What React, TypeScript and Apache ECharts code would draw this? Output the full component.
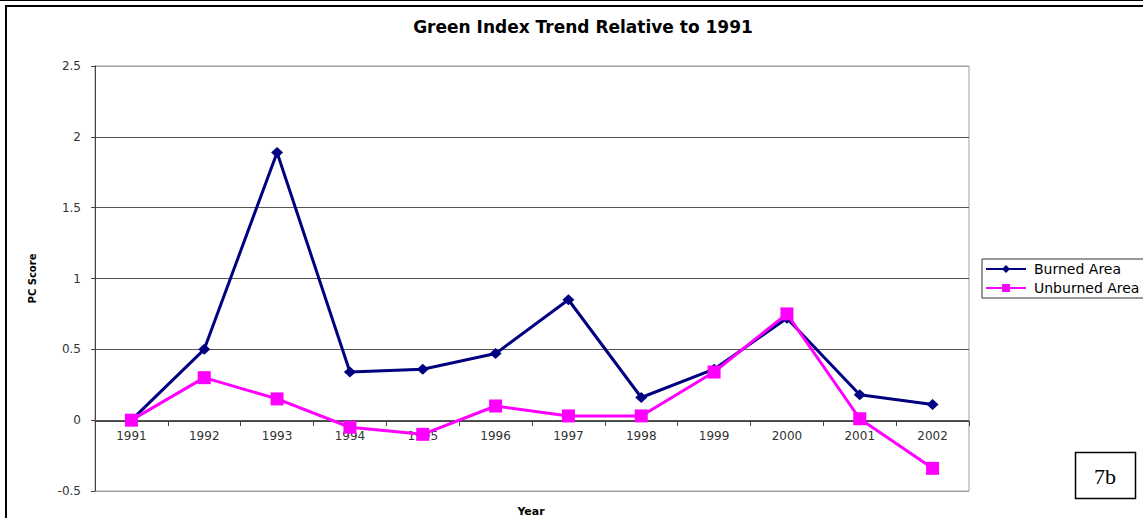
import React, { useEffect, useRef } from "react";
import * as echarts from "echarts";

const years = ["1991", "1992", "1993", "1994", "1995", "1996", "1997", "1998", "1999", "2000", "2001", "2002"];
const burnedArea = [0, 0.5, 1.89, 0.34, 0.36, 0.47, 0.85, 0.16, 0.36, 0.72, 0.18, 0.11];
const unburnedArea = [0, 0.3, 0.15, -0.05, -0.1, 0.1, 0.03, 0.03, 0.34, 0.75, 0.01, -0.34];
const seriesNames = ["Burned Area", "Unburned Area"];
const titleText = "Green Index Trend Relative to 1991";
const yAxisName = "PC Score";
const xAxisName = "Year";
const panelLabel = "7b";

const FONT = "'DejaVu Sans', Verdana, sans-serif";

export default function App() {
  const ref = useRef<HTMLDivElement>(null);
  useEffect(() => {
    if (!ref.current) return;
    const chart = echarts.init(ref.current, null, { renderer: "svg" });
    chart.setOption({
      animation: false,
      backgroundColor: "#ffffff",
      title: {
        text: titleText,
        left: 578,
        top: 13,
        textAlign: "center",
        textStyle: { fontFamily: FONT, fontSize: 17, fontWeight: "bold", color: "#000" },
      },
      grid: {
        left: 95,
        right: 174,
        top: 66,
        bottom: 27,
        outerBoundsMode: "none",
        containLabel: false,
        show: true,
        borderColor: "#a0a0a0",
        borderWidth: 1,
      },
      legend: {
        orient: "vertical",
        left: 982,
        top: 259,
        padding: [3, 6, 3, 3],
        itemGap: 5,
        itemWidth: 40,
        itemHeight: 10,
        borderColor: "#333",
        borderWidth: 1,
        textStyle: { fontFamily: FONT, fontSize: 14, lineHeight: 14, color: "#000", padding: [0, 0, 0, 3] },
        data: seriesNames,
      },
      xAxis: {
        type: "category",
        data: years,
        boundaryGap: true,
        offset: -70,
        axisLine: { onZero: false, lineStyle: { color: "#444", width: 1 } },
        axisTick: { show: true, length: 5, lineStyle: { color: "#444" } },
        axisLabel: { fontFamily: FONT, fontSize: 12, color: "#333", margin: 9 },
      },
      yAxis: {
        type: "value",
        min: -0.5,
        max: 2.5,
        interval: 0.5,
        name: yAxisName,
        nameLocation: "middle",
        nameGap: 58,
        nameRotate: 90,
        nameTextStyle: { fontFamily: FONT, fontSize: 10, fontWeight: "bold", color: "#000" },
        axisLine: { show: true, onZero: false, lineStyle: { color: "#444", width: 1 } },
        axisTick: { show: true, length: 4, lineStyle: { color: "#444" } },
        axisLabel: { fontFamily: FONT, fontSize: 12, color: "#333", margin: 14 },
        splitLine: {
          show: true,
          lineStyle: { color: ["#a0a0a0", "#555", "#555", "#555", "#555", "#555", "#a0a0a0"], width: 1 },
        },
      },
      series: [
        {
          name: seriesNames[0],
          type: "line",
          data: burnedArea,
          color: "#000080",
          lineStyle: { width: 3, color: "#000080" },
          symbol: "diamond",
          symbolSize: [12, 11],
          itemStyle: { color: "#000080" },
        },
        {
          name: seriesNames[1],
          type: "line",
          data: unburnedArea,
          color: "#ff00ff",
          lineStyle: { width: 3, color: "#ff00ff" },
          symbol: "rect",
          symbolSize: 13,
          itemStyle: { color: "#ff00ff" },
        },
      ],
      graphic: [
        { type: "line", shape: { x1: 0, y1: 0.5, x2: 1143, y2: 0.5 }, style: { stroke: "#000", lineWidth: 1 } },
        { type: "rect", shape: { x: 6, y: 6, width: 1300, height: 700 }, style: { fill: "none", stroke: "#000", lineWidth: 2 } },
        {
          type: "rect",
          shape: { x: 1075.5, y: 452.5, width: 60, height: 46 },
          style: { fill: "#fff", stroke: "#000", lineWidth: 1.5 },
        },
        {
          type: "text",
          x: 1105,
          y: 476,
          style: {
            text: panelLabel,
            font: "22px 'Liberation Serif', 'Times New Roman', serif",
            fill: "#000",
            align: "center",
            verticalAlign: "middle",
          },
        },
        {
          type: "text",
          x: 531,
          y: 511,
          style: {
            text: xAxisName,
            font: "bold 11px " + FONT,
            fill: "#000",
            align: "center",
            verticalAlign: "middle",
          },
        },
      ],
    });
    return () => chart.dispose();
  }, []);
  return <div ref={ref} style={{ position: "fixed", left: 0, top: 0, width: 1143, height: 518 }} />;
}
